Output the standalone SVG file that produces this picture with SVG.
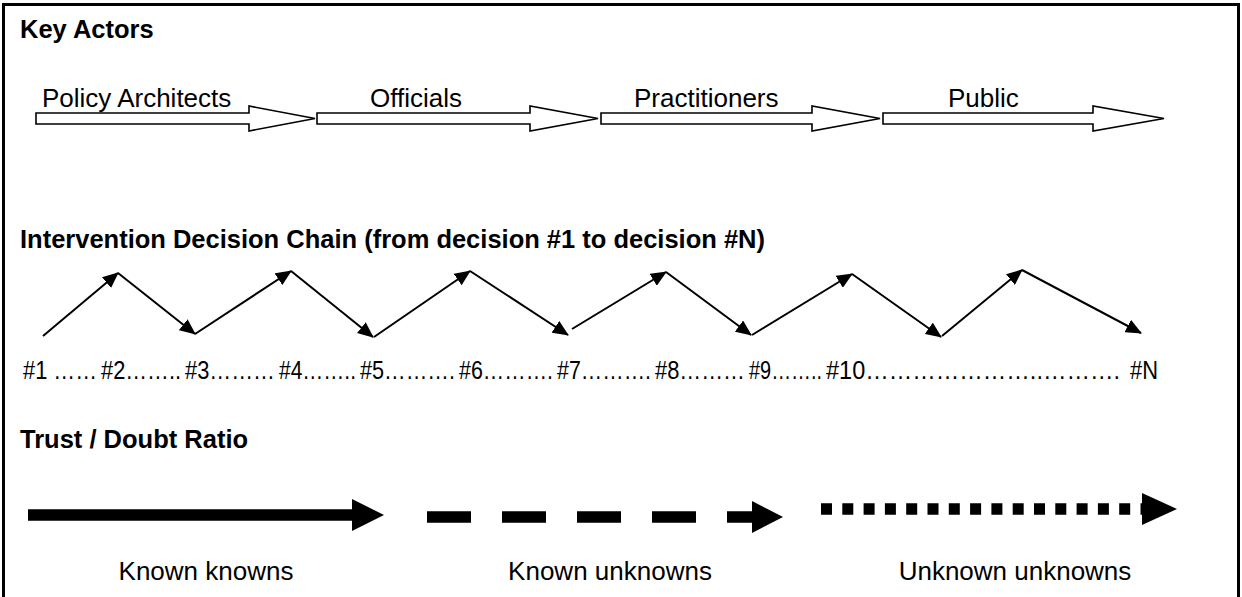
<svg xmlns="http://www.w3.org/2000/svg" width="1242" height="597" viewBox="0 0 1242 597">
  <style>
    .h { font-family: "Liberation Sans", Arial, sans-serif; font-weight: bold; font-size: 25.5px; fill: #000; }
    .t { font-family: "Liberation Sans", Arial, sans-serif; font-size: 26px; fill: #000; }
    .block { fill: #fff; stroke: #000; stroke-width: 1.6; stroke-linejoin: miter; }
    .zz { fill: none; stroke: #000; stroke-width: 2; marker-end: url(#ah); }
    .thick { fill: none; stroke: #000; stroke-width: 11.5; }
  </style>
  <defs>
    <marker id="ah" markerUnits="userSpaceOnUse" markerWidth="16" markerHeight="14" refX="15" refY="7" orient="auto">
      <path d="M0,0 L16,7 L0,14 z" fill="#000"/>
    </marker>
  </defs>
  <rect x="0" y="0" width="1242" height="597" fill="#fff"/>
  <rect x="3.5" y="4.5" width="1235" height="600" fill="none" stroke="#000" stroke-width="3"/>

  <!-- Section headings -->
  <text id="heading-actors" class="h" x="20" y="38">Key Actors</text>
  <text id="heading-chain" class="h" x="20" y="248" textLength="745" lengthAdjust="spacingAndGlyphs">Intervention Decision Chain (from decision #1 to decision #N)</text>
  <text id="heading-trust" class="h" x="20" y="448">Trust / Doubt Ratio</text>

  <!-- Key actors block arrows -->
  <g id="actor-policy-architects">
    <polygon class="block" points="36,113 249,113 249,106 315,118.5 249,131 249,124 36,124"/>
    <text class="t" x="42" y="107">Policy Architects</text>
  </g>
  <g id="actor-officials">
    <polygon class="block" points="317,113 530,113 530,106 598,118.5 530,131 530,124 317,124"/>
    <text class="t" x="370" y="107">Officials</text>
  </g>
  <g id="actor-practitioners">
    <polygon class="block" points="601,113 812,113 812,106 880,118.5 812,131 812,124 601,124"/>
    <text class="t" x="634" y="107">Practitioners</text>
  </g>
  <g id="actor-public">
    <polygon class="block" points="883,113 1093,113 1093,106 1164,118.5 1093,131 1093,124 883,124"/>
    <text class="t" x="948" y="107">Public</text>
  </g>

  <!-- Decision chain zigzag connectors -->
  <g id="connectors">
    <line class="zz" x1="43" y1="336" x2="118" y2="273"/>
    <line class="zz" x1="118" y1="273" x2="195" y2="334"/>
    <line class="zz" x1="195" y1="334" x2="291" y2="271"/>
    <line class="zz" x1="291" y1="271" x2="373" y2="337"/>
    <line class="zz" x1="374" y1="337" x2="470" y2="271"/>
    <line class="zz" x1="470" y1="271" x2="568" y2="335"/>
    <line class="zz" x1="572" y1="329" x2="666" y2="272"/>
    <line class="zz" x1="666" y1="272" x2="751" y2="335"/>
    <line class="zz" x1="752" y1="335" x2="852" y2="274"/>
    <line class="zz" x1="852" y1="274" x2="941" y2="337"/>
    <line class="zz" x1="942" y1="336" x2="1022" y2="270"/>
    <line class="zz" x1="1022" y1="270" x2="1141" y2="333"/>
  </g>

  <!-- Decision numbers row -->
  <g id="decision-numbers">
    <text class="t" y="379"><tspan x="23" textLength="74" lengthAdjust="spacingAndGlyphs">#1 ……</tspan><tspan x="101" textLength="80" lengthAdjust="spacingAndGlyphs">#2……..</tspan><tspan x="185" textLength="90" lengthAdjust="spacingAndGlyphs">#3………</tspan><tspan x="279" textLength="77" lengthAdjust="spacingAndGlyphs">#4……..</tspan><tspan x="360" textLength="95" lengthAdjust="spacingAndGlyphs">#5……….</tspan><tspan x="459" textLength="94" lengthAdjust="spacingAndGlyphs">#6……….</tspan><tspan x="557" textLength="94" lengthAdjust="spacingAndGlyphs">#7……….</tspan><tspan x="655" textLength="90" lengthAdjust="spacingAndGlyphs">#8………</tspan><tspan x="749" textLength="73" lengthAdjust="spacingAndGlyphs">#9……..</tspan><tspan x="826" textLength="294" lengthAdjust="spacingAndGlyphs">#10…………………..……….</tspan><tspan x="1130" textLength="28" lengthAdjust="spacingAndGlyphs">#N</tspan></text>
  </g>

  <!-- Trust / doubt arrows -->
  <g id="trust-known-knowns">
    <line class="thick" x1="28" y1="515" x2="354" y2="515"/>
    <polygon points="352,499 384,515 352,531" fill="#000"/>
    <text class="t" x="206" y="580" text-anchor="middle">Known knowns</text>
  </g>
  <g id="trust-known-unknowns">
    <line class="thick" x1="427" y1="517" x2="754" y2="517" stroke-dasharray="44 31"/>
    <polygon points="752,501 783,517 752,533" fill="#000"/>
    <text class="t" x="610" y="580" text-anchor="middle">Known unknowns</text>
  </g>
  <g id="trust-unknown-unknowns">
    <line class="thick" x1="821" y1="509" x2="1144" y2="509" stroke-dasharray="11 10.3" stroke-width="11"/>
    <polygon points="1142,493 1177,509 1142,525" fill="#000"/>
    <text class="t" x="1015" y="580" text-anchor="middle">Unknown unknowns</text>
  </g>
</svg>
